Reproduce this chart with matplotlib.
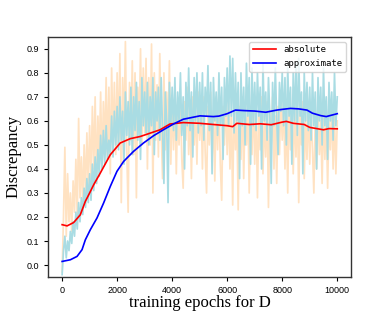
import numpy as np
import matplotlib
matplotlib.use("Agg")
import matplotlib.pyplot as plt

epochs = np.arange(0, 10001, 50)

abs_raw = [
    -0.03, 0.20, 0.49, 0.12, 0.38, 0.18, 0.30, 0.14, 0.35, 0.22, 0.44, 0.20, 0.61, 0.28, 0.45, 0.25, 0.50, 0.30, 0.55, 0.33,
    0.58, 0.36, 0.66, 0.40, 0.70, 0.34, 0.62, 0.45, 0.72, 0.40, 0.68, 0.48, 0.78, 0.44, 0.74, 0.38, 0.82, 0.50, 0.76, 0.46,
    0.80, 0.50, 0.88, 0.26, 0.78, 0.55, 0.93, 0.48, 0.22, 0.76, 0.52, 0.85, 0.46, 0.80, 0.28, 0.74, 0.58, 0.90, 0.50, 0.82,
    0.55, 0.86, 0.40, 0.78, 0.50, 0.92, 0.30, 0.80, 0.52, 0.75, 0.45, 0.88, 0.56, 0.36, 0.80, 0.48, 0.72, 0.54, 0.85, 0.42,
    0.68, 0.48, 0.72, 0.38, 0.66, 0.50, 0.70, 0.44, 0.32, 0.68, 0.52, 0.74, 0.46, 0.64, 0.36, 0.70, 0.50, 0.66, 0.42, 0.72,
    0.52, 0.68, 0.40, 0.70, 0.47, 0.30, 0.66, 0.50, 0.72, 0.44, 0.64, 0.35, 0.70, 0.48, 0.68, 0.42, 0.27, 0.66, 0.50, 0.70,
    0.46, 0.68, 0.40, 0.64, 0.25, 0.70, 0.48, 0.62, 0.23, 0.66, 0.44, 0.70, 0.36, 0.64, 0.50, 0.68, 0.30, 0.62, 0.46, 0.70,
    0.42, 0.66, 0.28, 0.64, 0.48, 0.70, 0.38, 0.62, 0.45, 0.68, 0.24, 0.64, 0.50, 0.70, 0.40, 0.62, 0.34, 0.66, 0.46, 0.68,
    0.52, 0.68, 0.40, 0.64, 0.30, 0.70, 0.48, 0.62, 0.38, 0.66, 0.45, 0.70, 0.26, 0.64, 0.50, 0.68, 0.36, 0.62, 0.44, 0.66,
    0.42, 0.64, 0.48, 0.30, 0.62, 0.40, 0.66, 0.46, 0.60, 0.34, 0.64, 0.44, 0.62, 0.32, 0.60, 0.48, 0.66, 0.40, 0.62, 0.38, 0.60,
]

approx_raw = [
    -0.04, 0.06, 0.12, 0.03, 0.10, 0.06, 0.14, 0.09, 0.18, 0.12, 0.22, 0.15, 0.26, 0.18, 0.28, 0.21, 0.32, 0.24, 0.36, 0.26,
    0.38, 0.27, 0.42, 0.31, 0.45, 0.34, 0.48, 0.37, 0.54, 0.40, 0.56, 0.42, 0.58, 0.44, 0.52, 0.46, 0.62, 0.45, 0.64, 0.50,
    0.66, 0.48, 0.70, 0.52, 0.64, 0.42, 0.72, 0.54, 0.68, 0.50, 0.74, 0.46, 0.70, 0.56, 0.76, 0.52, 0.68, 0.44, 0.78, 0.58,
    0.72, 0.55, 0.76, 0.50, 0.70, 0.58, 0.78, 0.46, 0.72, 0.60, 0.74, 0.52, 0.78, 0.56, 0.34, 0.72, 0.60, 0.26, 0.76, 0.58,
    0.74, 0.56, 0.78, 0.52, 0.72, 0.60, 0.80, 0.54, 0.70, 0.40, 0.76, 0.58, 0.82, 0.56, 0.72, 0.45, 0.78, 0.60, 0.80, 0.55,
    0.76, 0.58, 0.80, 0.52, 0.74, 0.62, 0.83, 0.56, 0.76, 0.38, 0.78, 0.60, 0.72, 0.54, 0.80, 0.58, 0.74, 0.44, 0.78, 0.62,
    0.82, 0.58, 0.87, 0.62, 0.86, 0.55, 0.80, 0.60, 0.76, 0.36, 0.80, 0.58, 0.74, 0.50, 0.84, 0.62, 0.78, 0.42, 0.82, 0.58,
    0.76, 0.56, 0.80, 0.62, 0.74, 0.40, 0.84, 0.60, 0.72, 0.52, 0.78, 0.62, 0.34, 0.76, 0.58, 0.82, 0.60, 0.46, 0.76, 0.64,
    0.80, 0.58, 0.78, 0.50, 0.82, 0.62, 0.74, 0.42, 0.80, 0.60, 0.84, 0.54, 0.86, 0.62, 0.72, 0.38, 0.80, 0.60, 0.76, 0.56,
    0.74, 0.52, 0.80, 0.58, 0.72, 0.40, 0.78, 0.60, 0.74, 0.50, 0.82, 0.58, 0.70, 0.44, 0.76, 0.60, 0.72, 0.52, 0.80, 0.58, 0.70,
]

abs_smooth_x = [0, 180, 420, 660, 844, 1000, 1146, 1388, 1750, 2112, 2475, 2837, 3200, 3560, 3920,
                4400, 5000, 5500, 6000, 6200, 6350, 6800, 7200, 7600, 8000, 8150, 8400, 8800, 9000,
                9300, 9500, 9700, 10000]
abs_smooth = [0.168, 0.163, 0.177, 0.209, 0.265, 0.300, 0.334, 0.383, 0.459, 0.508, 0.526, 0.535, 0.549,
              0.563, 0.587, 0.593, 0.590, 0.585, 0.580, 0.576, 0.590, 0.585, 0.588, 0.584, 0.595, 0.598,
              0.590, 0.585, 0.573, 0.567, 0.563, 0.568, 0.567]

approx_smooth_x = [0, 300, 543, 724, 844, 1025, 1268, 1507, 1750, 1993, 2233, 2594, 2958, 3320, 3680,
                   4045, 4406, 5010, 5500, 5700, 6000, 6300, 6600, 7000, 7400, 7800, 8000, 8300, 8600,
                   8900, 9100, 9400, 9600, 10000]
approx_smooth = [0.015, 0.022, 0.036, 0.064, 0.105, 0.147, 0.196, 0.258, 0.327, 0.390, 0.431, 0.473, 0.508,
                 0.538, 0.563, 0.587, 0.607, 0.621, 0.618, 0.620, 0.630, 0.645, 0.643, 0.641, 0.636, 0.645,
                 0.648, 0.652, 0.650, 0.645, 0.632, 0.622, 0.618, 0.630]

labels = ["absolute", "approximate"]

fig = plt.figure(figsize=(3.9, 3.12), dpi=100)
ax = fig.add_axes([0.124, 0.112, 0.776, 0.77])

ax.plot(epochs, abs_raw, color="#FFE2C2", lw=1.25, zorder=1)
ax.plot(epochs, approx_raw, color="#A9DCE3", lw=1.25, zorder=2)
ax.plot(abs_smooth_x, abs_smooth, color="red", lw=1.2, zorder=3, label=labels[0])
ax.plot(approx_smooth_x, approx_smooth, color="blue", lw=1.2, zorder=4, label=labels[1])

ax.set_xlim(-500, 10500)
ax.set_ylim(-0.05, 0.95)
ax.set_yticks(np.arange(0, 0.91, 0.1))
ax.set_xticks([0, 2000, 4000, 6000, 8000, 10000])
ax.tick_params(labelsize=6.5, length=3, width=0.8)
for lab in ax.get_xticklabels() + ax.get_yticklabels():
    lab.set_family("Liberation Sans")
for s in ax.spines.values():
    s.set_linewidth(1.0)
    s.set_color("#333333")

ax.set_xlabel("training epochs for D", fontsize=12, family="Liberation Serif", labelpad=0)
ax.set_ylabel("Discrepancy", fontsize=12, family="Liberation Serif", labelpad=4)

leg = ax.legend(loc="upper right", prop={"family": "DejaVu Sans Mono", "size": 6.5},
                handlelength=2.6, fancybox=True, framealpha=0.8, borderaxespad=0.55)

fig.savefig("out.png", dpi=100)
